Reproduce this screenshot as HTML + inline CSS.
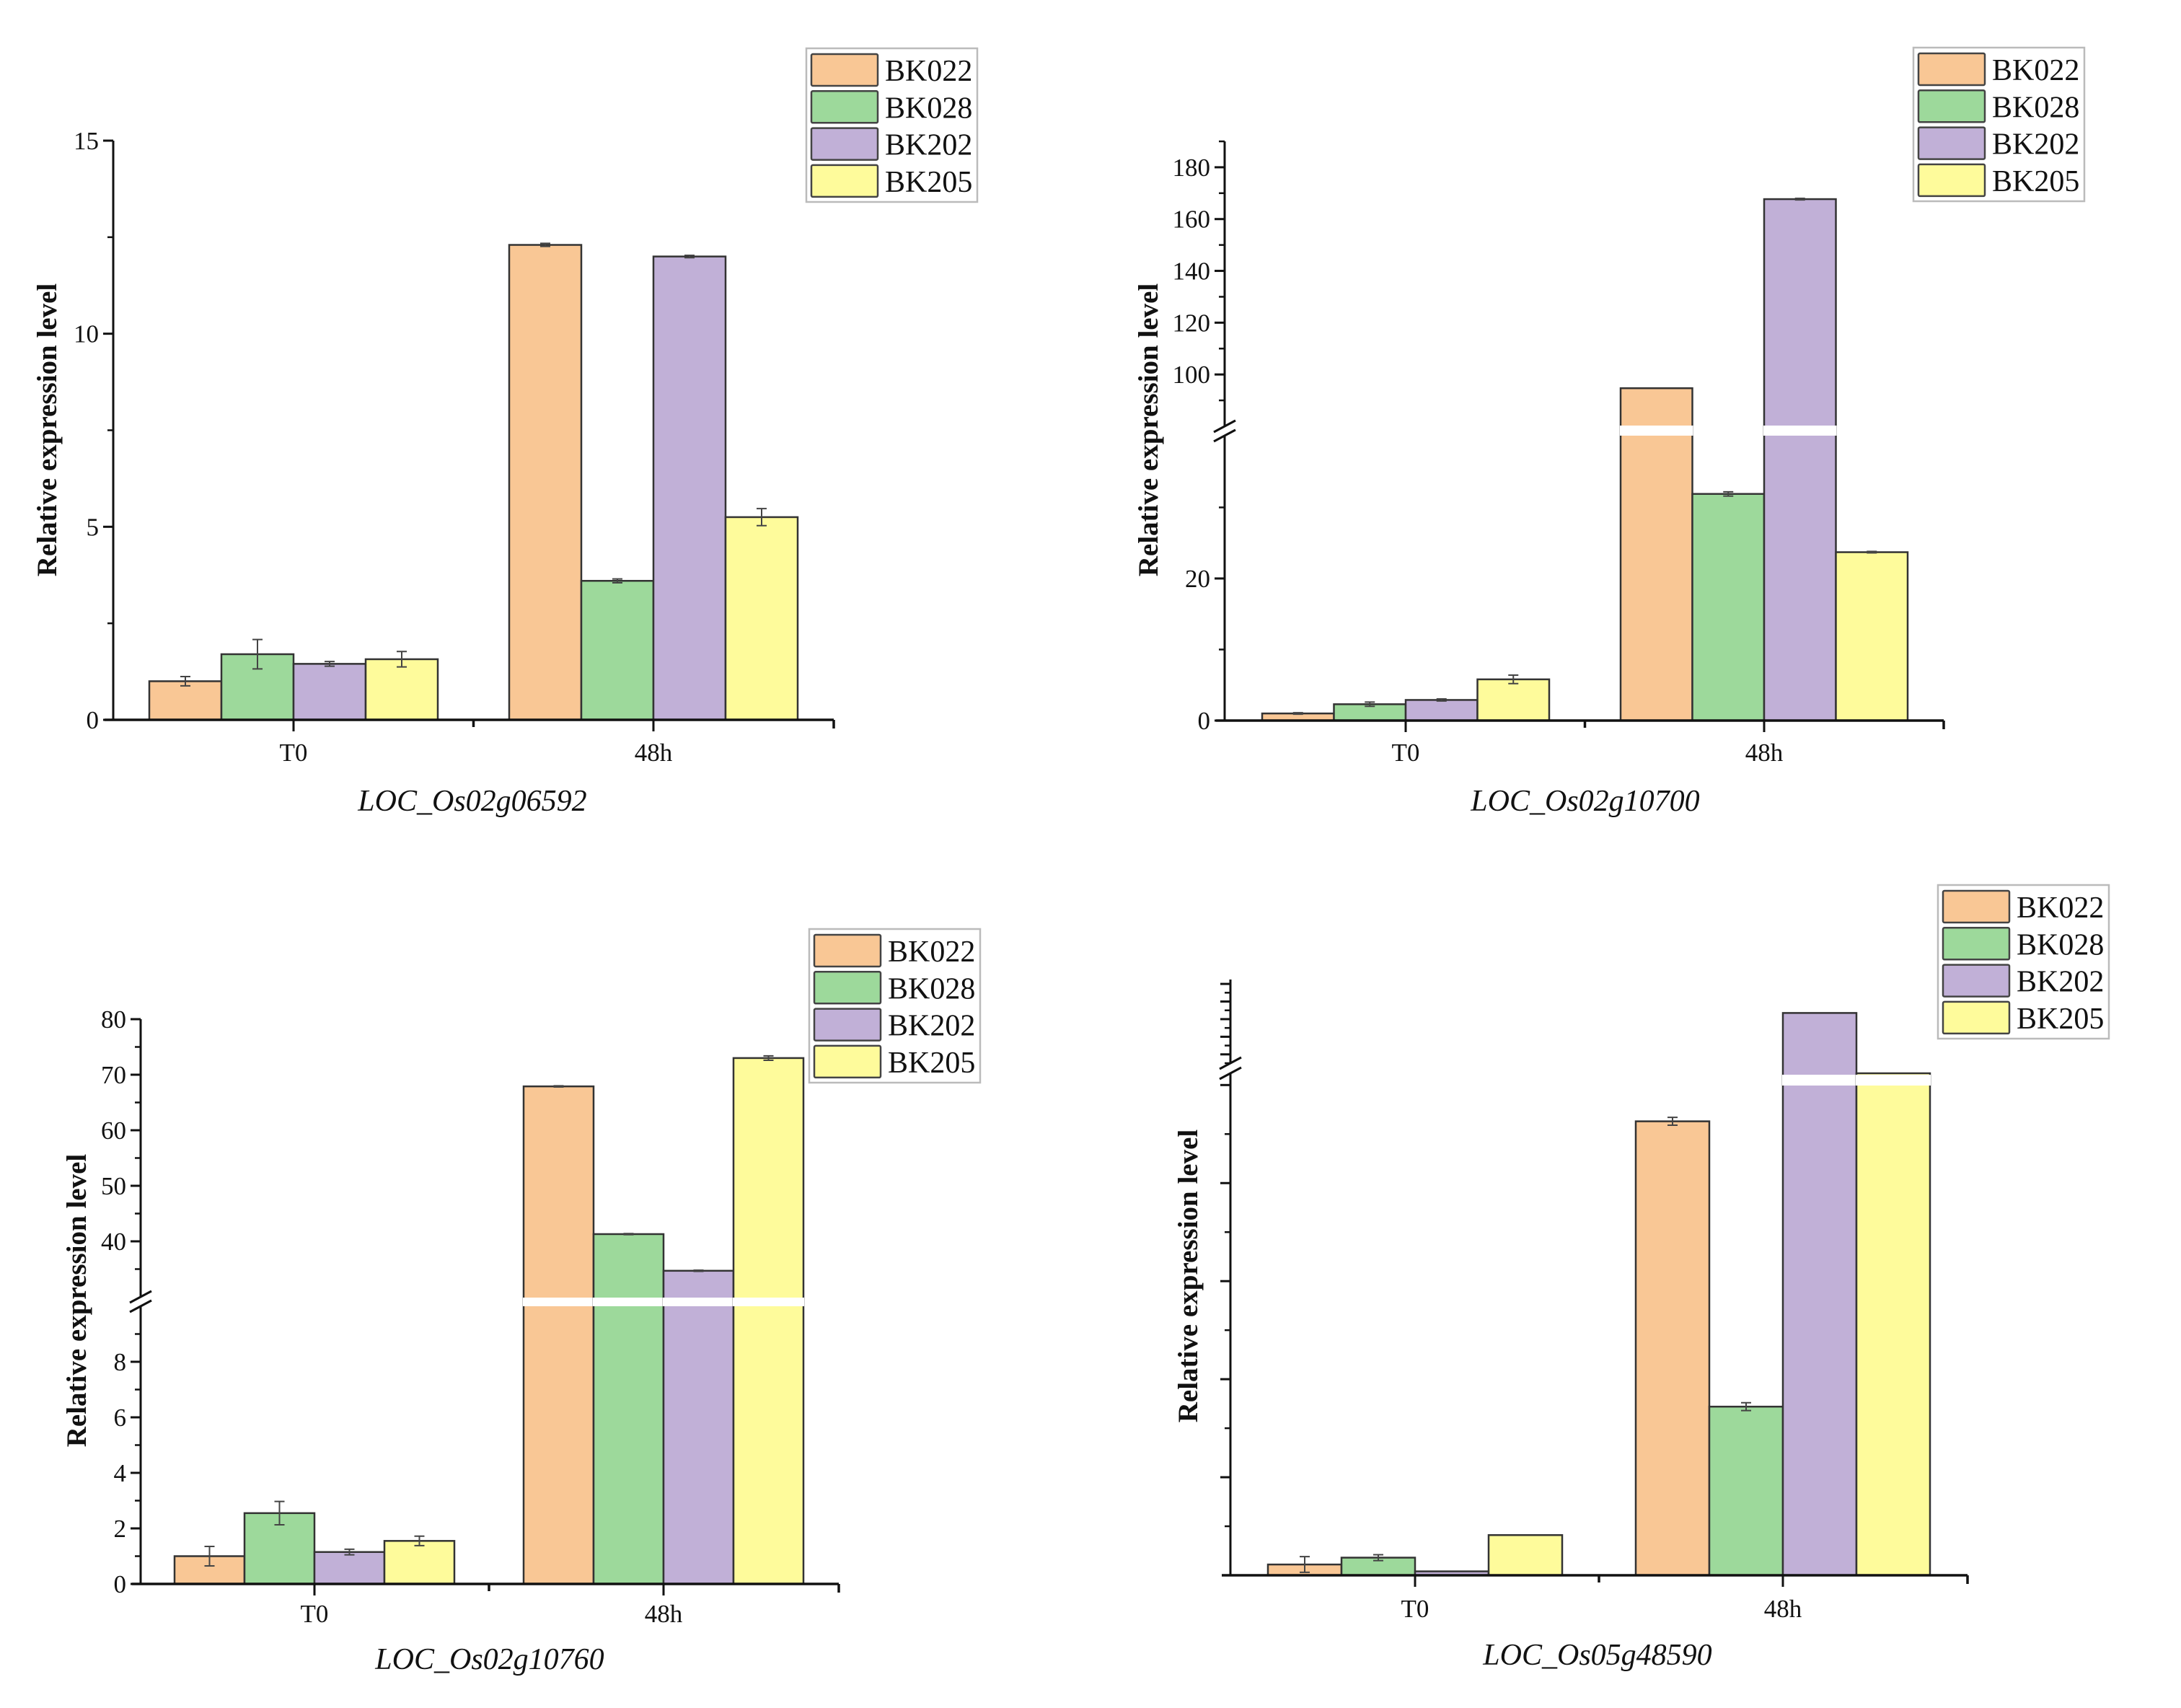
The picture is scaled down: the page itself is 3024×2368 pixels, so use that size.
<!DOCTYPE html>
<html><head><meta charset="utf-8">
<style>
html,body{margin:0;padding:0;background:#fff;}
svg{display:block;}
text{font-family:"Liberation Serif","Times New Roman",serif;fill:#111;}
</style></head>
<body>
<svg id="root" width="3024" height="2368" viewBox="0 0 3024 2368" xmlns="http://www.w3.org/2000/svg"></svg>
<script>
// ---------- data ----------
const categories = ["T0", "48h"];
const seriesNames = ["BK022", "BK028", "BK202", "BK205"];
// Panel 1: LOC_Os02g06592
const p1T0 = [1.0, 1.7, 1.45, 1.57];
const p1H48 = [12.3, 3.6, 12.0, 5.25];
const p1ErrT0 = [0.12, 0.38, 0.06, 0.2];
const p1ErrH48 = [0.04, 0.05, 0.03, 0.22];
const p1Ticks = [0, 5, 10, 15];
// Panel 2: LOC_Os02g10700
const p2T0 = [1.0, 2.3, 2.9, 5.8];
const p2H48 = [94.7, 31.9, 167.7, 23.7];
const p2ErrT0 = [0.1, 0.3, 0.15, 0.6];
const p2ErrH48 = [0, 0.3, 0.3, 0.1];
const p2TicksLow = [0, 20];
const p2TicksHigh = [100, 120, 140, 160, 180];
// Panel 3: LOC_Os02g10760
const p3T0 = [1.0, 2.55, 1.15, 1.55];
const p3H48 = [67.9, 41.3, 34.7, 73.0];
const p3ErrT0 = [0.35, 0.42, 0.1, 0.17];
const p3ErrH48 = [0.1, 0.1, 0.1, 0.4];
const p3TicksLow = [0, 2, 4, 6, 8];
const p3TicksHigh = [40, 50, 60, 70, 80];
// Panel 4: LOC_Os05g48590 (no tick labels)
const p4T0 = [0.11, 0.18, 0.04, 0.41];
const p4H48 = [4.63, 1.72, 15.7, 5.12];
const p4ErrT0 = [0.08, 0.03, 0, 0];
const p4ErrH48 = [0.04, 0.04, 0, 0];

// ---------- style / layout ----------
const colors = ["#F9C795", "#9DD99B", "#C1B0D7", "#FEFB9B"];
const NS = "http://www.w3.org/2000/svg";
const root = document.getElementById("root");
function mk(tag, attrs, parent) {
  const e = document.createElementNS(NS, tag);
  for (const k in attrs) e.setAttribute(k, attrs[k]);
  (parent || root).appendChild(e);
  return e;
}

const panels = [
  {id:"p1", title:"LOC_Os02g06592", x0:157, x1:1156, top:195, centers:[407,906], barW:100,
   segs:[{d:[0,15], r:[998,195]}], band:null,
   lowTicks:p1Ticks, lowMinor:[2.5,7.5,12.5], highTicks:[], highMinor:[], labels:true,
   t0:p1T0, h48:p1H48, eT0:p1ErrT0, eH48:p1ErrH48,
   ylab:[65,596], titleXY:[655,1110], catY:1043, legend:[1118,67]},
  {id:"p2", title:"LOC_Os02g10700", x0:1698, x1:2695, top:196, centers:[1949,2446], barW:99.5,
   segs:[{d:[0,40.1], r:[999,604]}, {d:[80,190], r:[591,196]}], band:[590,604],
   lowTicks:p2TicksLow, lowMinor:[10,30], highTicks:p2TicksHigh, highMinor:[90,110,130,150,170,190], labels:true,
   t0:p2T0, h48:p2H48, eT0:p2ErrT0, eH48:p2ErrH48,
   ylab:[1592,596], titleXY:[2198,1110], catY:1043, legend:[2653,66]},
  {id:"p3", title:"LOC_Os02g10760", x0:195, x1:1163, top:1413, centers:[436,920], barW:97,
   segs:[{d:[0,10], r:[2196,1811]}, {d:[30,80], r:[1798,1413]}], band:[1799,1811],
   lowTicks:p3TicksLow, lowMinor:[1,3,5,7,9], highTicks:p3TicksHigh, highMinor:[35,45,55,65,75], labels:true,
   t0:p3T0, h48:p3H48, eT0:p3ErrT0, eH48:p3ErrH48,
   ylab:[106,1803], titleXY:[679,2300], catY:2237, legend:[1122,1288]},
  {id:"p4", title:"LOC_Os05g48590", x0:1706, x1:2728, top:1358, centers:[1962,2472], barW:102,
   segs:[{d:[0,5.12], r:[2184,1488]}, {d:[10,19.5], r:[1474,1358]}], band:[1490,1505],
   lowTicks:[1,2,3,4,5], lowMinor:[0.5,1.5,2.5,3.5,4.5], highTicks:[11,13,15,17,19], highMinor:[10,12,14,16,18], labels:false,
   t0:p4T0, h48:p4H48, eT0:p4ErrT0, eH48:p4ErrH48,
   ylab:[1647,1769], titleXY:[2215,2294], catY:2230, legend:[2687,1227]}
];

function makeScale(segs) {
  return function(v) {
    for (let i = segs.length - 1; i >= 0; i--) {
      const s = segs[i];
      if (v >= s.d[0] || i === 0) {
        const vv = Math.min(v, s.d[1]);
        if (i > 0 || v <= s.d[1] || segs.length === 1) {
          return s.r[0] + (vv - s.d[0]) / (s.d[1] - s.d[0]) * (s.r[1] - s.r[0]);
        }
      }
      if (i === 1 && v < s.d[0] && v > segs[0].d[1]) return segs[0].r[1];
    }
    const s = segs[0];
    return s.r[0] + (v - s.d[0]) / (s.d[1] - s.d[0]) * (s.r[1] - s.r[0]);
  };
}

panels.forEach(p => {
  const g = mk("g", {});
  
  
  const y = makeScale(p.segs);
  const lowMax = p.segs[0].d[1];
  const base = p.segs[0].r[0];
  const groups = [[p.t0, p.eT0], [p.h48, p.eH48]];
  groups.forEach((grp, gi) => {
    const vals = grp[0], errs = grp[1];
    const left = p.centers[gi] - p.barW * 2;
    vals.forEach((v, i) => {
      const xl = left + i * p.barW;
      const yt = y(v);
      const r = mk("rect", {x:xl, y:yt, width:p.barW, height:base - yt, fill:colors[i], stroke:"#333", "stroke-width":2.5}, g);
      
      
      if (p.band && v >= lowMax) {
        const b = mk("rect", {x:xl - 1, y:p.band[0], width:p.barW + 2, height:p.band[1] - p.band[0], fill:"#fff"}, g);
        
        
      }
      const e = errs[i];
      if (e > 0) {
        const cx = xl + p.barW / 2;
        const y1 = y(v + e), y2 = y(Math.max(0, v - e));
        const eb = mk("path", {d:`M${cx},${y1}V${y2}M${cx-7},${y1}H${cx+7}M${cx-7},${y2}H${cx+7}`, stroke:"#444", "stroke-width":2, fill:"none"}, g);
        
        
      }
    });
  });
  // y axis
  let axisPath;
  if (p.segs.length === 1) {
    axisPath = `M${p.x0},${p.top}V${base}`;
  } else {
    axisPath = `M${p.x0},${base}V${p.segs[0].r[1]}M${p.x0},${p.segs[1].r[0]}V${p.top}`;
  }
  const ya = mk("path", {d:axisPath, stroke:"#111", "stroke-width":3, fill:"none"}, g);
  
  
  if (p.segs.length > 1) {
    const a = p.segs[0].r[1], b = p.segs[1].r[0];
    const br = mk("path", {d:`M${p.x0-15},${a+8}L${p.x0+15},${a-8}M${p.x0-15},${b+8}L${p.x0+15},${b-8}`, stroke:"#111", "stroke-width":3}, g);
    
    
  }
  // ticks
  const major = p.lowTicks.concat(p.highTicks), minor = p.lowMinor.concat(p.highMinor);
  major.forEach(t => {
    const ty = y(t);
    mk("line", {x1:p.x0 - 14, x2:p.x0, y1:ty, y2:ty, stroke:"#111", "stroke-width":3}, g);
    if (p.labels) {
      const tl = mk("text", {x:p.x0 - 20, y:ty + 12, "text-anchor":"end", "font-size":35}, g);
      tl.textContent = t;
      
      
    }
  });
  minor.forEach(t => {
    const ty = y(t);
    mk("line", {x1:p.x0 - 8, x2:p.x0, y1:ty, y2:ty, stroke:"#111", "stroke-width":2.5}, g);
  });
  // x axis
  const xa = mk("path", {d:`M${p.x0-12},${base}H${p.x1}M${p.x1},${base}v12M${(p.centers[0]+p.centers[1])/2},${base}v10`, stroke:"#111", "stroke-width":3.5, fill:"none"}, g);
  
  
  categories.forEach((c, i) => {
    mk("line", {x1:p.centers[i], x2:p.centers[i], y1:base, y2:base + 16, stroke:"#111", "stroke-width":3}, g);
    const t = mk("text", {x:p.centers[i], y:p.catY + 12, "text-anchor":"middle", "font-size":35}, g);
    t.textContent = c;
    
    
  });
  // y label
  const yl = mk("text", {x:0, y:0, "text-anchor":"middle", "font-size":39, "font-weight":"bold", transform:`translate(${p.ylab[0]+13},${p.ylab[1]}) rotate(-90)`}, g);
  yl.textContent = "Relative expression level";
  
  
  // title
  const tt = mk("text", {x:p.titleXY[0], y:p.titleXY[1] + 14, "text-anchor":"middle", "font-size":42, "font-style":"italic"}, g);
  tt.textContent = p.title;
  
  
  // legend
  const lg = mk("g", {}, g);
  
  
  const lx = p.legend[0], ly = p.legend[1];
  mk("rect", {x:lx, y:ly, width:237, height:213, fill:"#fff", stroke:"#bbb", "stroke-width":2.5}, lg);
  seriesNames.forEach((n, i) => {
    const ry = ly + 8 + i * 51.3;
    const sw = mk("rect", {x:lx + 7, y:ry, width:92, height:44, fill:colors[i], stroke:"#444", "stroke-width":2.5, rx:2}, lg);
    
    
    const lt = mk("text", {x:lx + 109, y:ry + 37, "font-size":42}, lg);
    lt.textContent = n;
    
    
  });
});
</script>
</body></html>
